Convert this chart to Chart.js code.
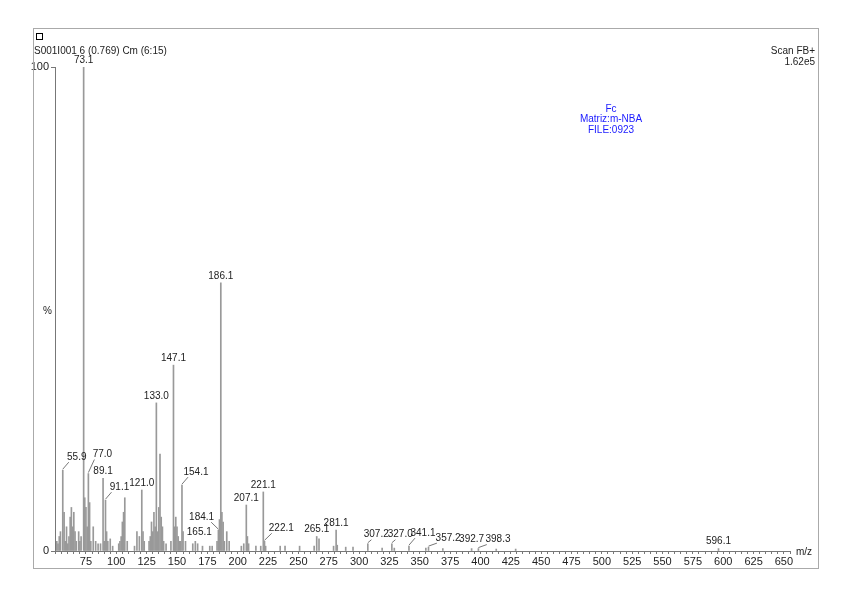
<!DOCTYPE html>
<html><head><meta charset="utf-8">
<script src="https://cdn.jsdelivr.net/npm/chart.js@4.4.0/dist/chart.umd.min.js"></script>
<style>html,body{margin:0;padding:0;background:#fff}#w{position:relative;width:848px;height:599px}</style>
</head><body><div id="w"><canvas id="c" width="848" height="599"></canvas></div>
<script>
const mz = [51,52,53,54,55.9,57,58,59,60,61,62,63,64,65,66,67,69,70,71,73.1,74,75,76,77.0,78,79,81,83,85,87,89.1,90,91.1,92,93,95,97,102,103,104,105,106,107,109,115,117,119,121.0,122,123,127,128,129,130,131,132,133.0,134,135,136,137,138,139,141,145,147.1,148,149,150,151,152,153,154.1,155,157,163,165.1,167,171,177,179,183,184.1,185,186.1,187,188,189,191,193,203,205,207.1,208,209,215,219,221.1,222.1,223,235,239,251,263,265.1,267,279,281.1,282,289,295,307.2,319,327.0,329,341.1,355,357.2,369,392.7,398.3,413,429,596.1];
const intensity = [2,1.5,3,4,16.7,8,2,5,1.5,3,7,9,5,8,4,2,4,2,3,100,11,9,5,16,10,2,5,2,1.5,1.5,15,2,10.5,4,2,2.5,1,1.5,2,3,6,8,11,2,1,4,3,12.6,4,2,2,3,6,4,8,5,30.6,4,9,20,7,5,2,1.5,2,38.4,5,7,5,3,2,2,13.6,4,2,1.5,2,1.5,1,1,1,2,4.3,6.5,55.4,8,6,2,4,2,1,1.5,9.5,3,1.5,1,1,12.2,2,1,1,1,1,1,3,2.5,1,4.3,1.2,0.8,0.8,1.5,0.6,1.5,0.6,1,0.6,0.8,0.5,0.5,0.5,0.4,0.4,0.5];
const labelled = ['55.9','73.1','77.0','89.1','91.1','121.0','133.0','147.1','154.1','165.1','184.1','186.1','207.1','221.1','222.1','265.1','281.1','307.2','327.0','341.1','357.2','392.7','398.3','596.1'];
const xTicks = [75,100,125,150,175,200,225,250,275,300,325,350,375,400,425,450,475,500,525,550,575,600,625,650];
const labelOffset = {'55.9':[10,-8],'77.0':[10,-14],'91.1':[10,-8],'154.1':[10,-8],'184.1':[-12,-8],'222.1':[12,-8],'341.1':[10,-8],'357.2':[14,-4],'165.1':[4,-4],'307.2':[6,-4],'327.0':[6,-4],'392.7':[0,-4],'398.3':[14,-4]};

const labelPlugin = {
  id:'lbl',
  afterDatasetsDraw(chart){
    const {ctx, scales:{x,y}} = chart;
    ctx.save();
    ctx.font='10px "Liberation Sans", Arial, sans-serif';
    ctx.fillStyle='#222'; ctx.strokeStyle='#777'; ctx.lineWidth=1;
    ctx.textAlign='center'; ctx.textBaseline='bottom';
    mz.forEach((m,i)=>{
      const key = m.toFixed(1);
      if(!labelled.includes(key)) return;
      const px = x.getPixelForValue(m), py = y.getPixelForValue(intensity[i]);
      const off = labelOffset[key] || [0,-2];
      const lead = Math.abs(off[0])>5;
      if(lead){
        ctx.beginPath(); ctx.moveTo(px,py-1); ctx.lineTo(px+off[0]*0.6,py+off[1]); ctx.stroke();
      }
      ctx.fillText(key, px+off[0]*(lead?1.4:1), py+off[1]);
    });
    ctx.strokeStyle='#aaa'; ctx.strokeRect(33.5,28.5,785,540);
    ctx.textAlign='left'; ctx.textBaseline='alphabetic'; ctx.fillStyle='#222';
    ctx.strokeStyle='#000'; ctx.strokeRect(36.5,33.5,6,6);
    ctx.fillText('S001I001 6 (0.769) Cm (6:15)',34,54);
    ctx.textAlign='right';
    ctx.fillText('Scan FB+',815,54); ctx.fillText('1.62e5',815,65);
    ctx.fillText('%',52,314);
    ctx.textAlign='left'; ctx.fillText('m/z',796,555);
    ctx.fillStyle='#1a1aff'; ctx.textAlign='center';
    ctx.fillText('Fc',611,112); ctx.fillText('Matriz:m-NBA',611,122); ctx.fillText('FILE:0923',611,133);
    ctx.restore();
  }
};

new Chart(document.getElementById('c'),{
  type:'bar',
  data:{datasets:[{data:mz.map((m,i)=>({x:m,y:intensity[i]})),backgroundColor:'#999',barThickness:1,categoryPercentage:1,barPercentage:1}]},
  options:{
    responsive:false,animation:false,
    layout:{padding:{top:67,right:58,left:0,bottom:0}},
    plugins:{legend:{display:false},tooltip:{enabled:false}},
    scales:{
      x:{type:'linear',min:49.5,max:655,offset:false,
        afterFit(s){s.height=48;},
        afterBuildTicks(s){const t=[];for(let v=50;v<=655;v+=5)t.push({value:v});s.ticks=t;},
        ticks:{autoSkip:false,maxRotation:0,padding:1,color:'#222',font:{size:11,family:'"Liberation Sans", Arial'},callback:v=>xTicks.includes(v)?String(v):''},
        grid:{display:true,offset:false,drawOnChartArea:false,tickLength:3,color:'#777'},
        border:{color:'#777'}},
      y:{min:0,max:100,
        afterFit(s){s.width=55;},
        afterBuildTicks(s){s.ticks=[{value:0},{value:100}];},
        ticks:{color:'#222',padding:2,font:{size:11,family:'"Liberation Sans", Arial'}},
        grid:{drawOnChartArea:false,tickLength:4,color:'#777'},
        border:{color:'#777'}}
    }
  },
  plugins:[labelPlugin]
});
</script></body></html>
